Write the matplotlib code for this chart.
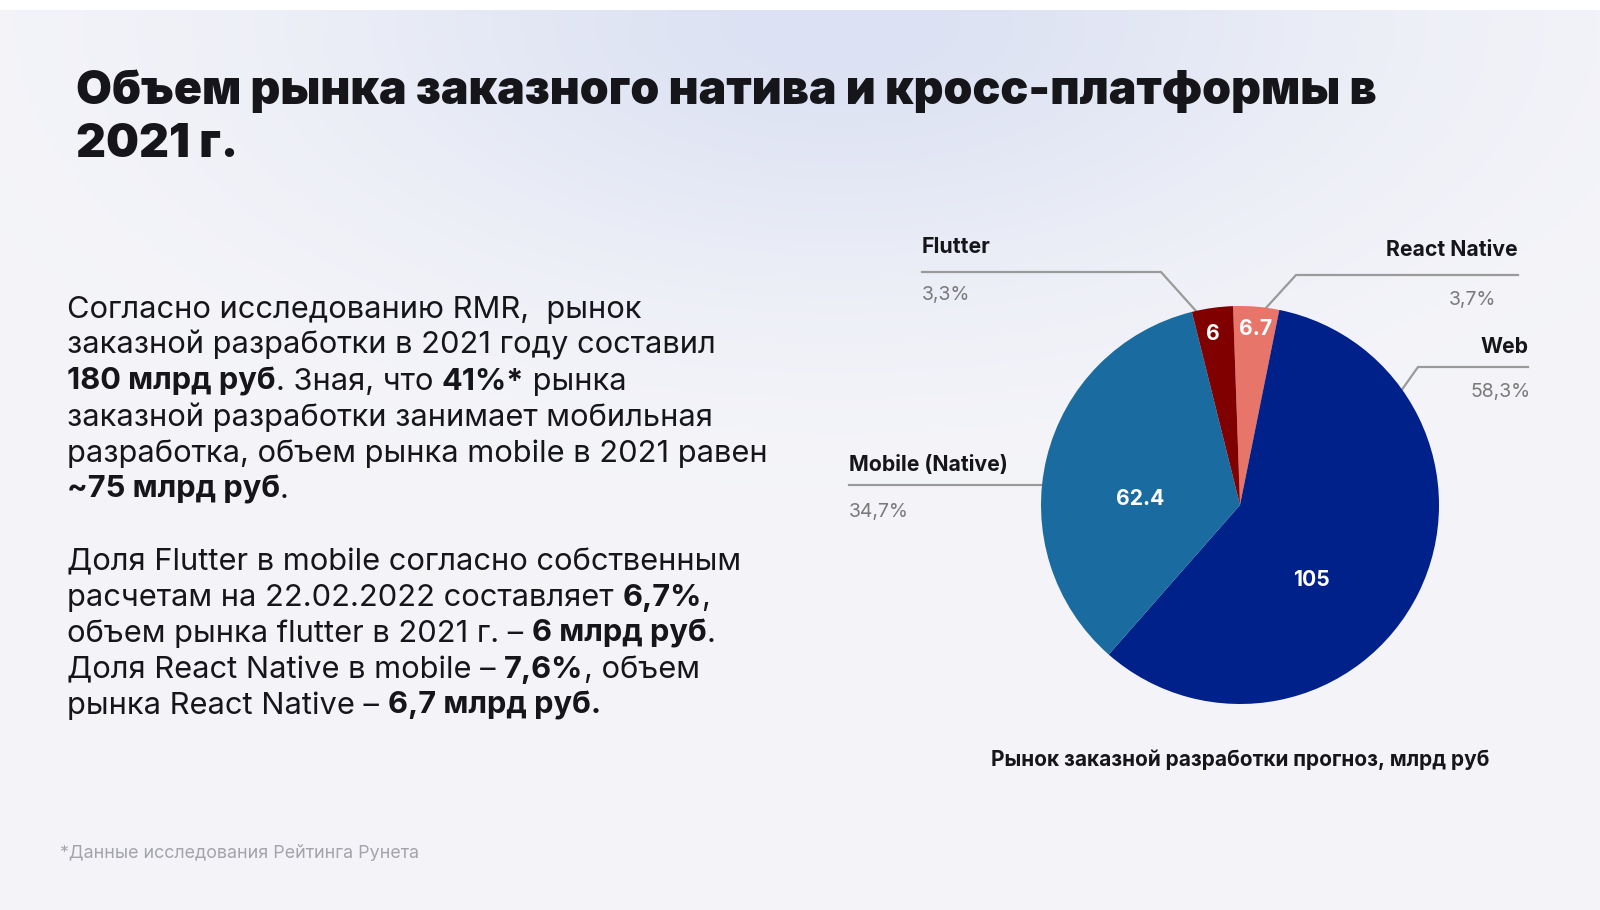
import numpy as np
import matplotlib.pyplot as plt

# Данные диаграммы
categories = ['React Native', 'Web', 'Mobile (Native)', 'Flutter']
values = [6.7, 105, 62.4, 6]
value_labels = ['6.7', '105', '62.4', '6']
shares = ['3,7%', '58,3%', '34,7%', '3,3%']
colors = ['#E8756A', '#00208A', '#1A6BA0', '#800000']

title_lines = ['Объем рынка заказного натива и кросс-платформы в', '2021 г.']
caption = 'Рынок заказной разработки прогноз, млрд руб'
footnote = '*Данные исследования Рейтинга Рунета'

# Текст слева: (фрагмент, жирный)
body = [
    [('Согласно исследованию RMR,  рынок', False)],
    [('заказной разработки в 2021 году составил', False)],
    [('180 млрд руб', True), ('. Зная, что ', False), ('41%*', True), (' рынка', False)],
    [('заказной разработки занимает мобильная', False)],
    [('разработка, объем рынка mobile в 2021 равен', False)],
    [('~75 млрд руб', True), ('.', False)],
    [],
    [('Доля Flutter в mobile согласно собственным', False)],
    [('расчетам на 22.02.2022 составляет ', False), ('6,7%', True), (',', False)],
    [('объем рынка flutter в 2021 г. – ', False), ('6 млрд руб', True), ('.', False)],
    [('Доля React Native в mobile – ', False), ('7,6%', True), (', объем', False)],
    [('рынка React Native – ', False), ('6,7 млрд руб.', True)],
]

FONT = ['Inter', 'DejaVu Sans']
TXT = '#16161a'
W, H = 1600, 910

fig = plt.figure(figsize=(16, 9.1), dpi=100)
bg = fig.add_axes([0, 0, 1, 1])
bg.set_xlim(0, W)
bg.set_ylim(H, 0)
bg.axis('off')

# фон с мягким градиентом
yy, xx = np.mgrid[0:H, 0:W]
g = np.exp(-(((xx - 840) / 520) ** 2 + ((yy - 20) / 260) ** 2))
base = np.array([245, 245, 249]) / 255
glow = np.array([220, 226, 243]) / 255
img = base * (1 - g[..., None]) + glow * g[..., None]
img[:10] = 1.0
bg.imshow(img, extent=(0, W, H, 0), aspect='auto', zorder=0)

renderer = fig.canvas.get_renderer()


def text_w(s, bold, size):
    kw = dict(fontsize=size, fontweight='bold' if bold else 'normal', family=FONT)
    t1 = bg.text(0, 0, s + '|', **kw)
    t2 = bg.text(0, 0, '|', **kw)
    w = t1.get_window_extent(renderer).width - t2.get_window_extent(renderer).width
    t1.remove()
    t2.remove()
    return w


def put_runs(x, y, runs, size):
    for s, b in runs:
        bg.text(x, y, s, fontsize=size, fontweight='bold' if b else 'normal',
                family=FONT, color=TXT, va='baseline', ha='left', zorder=3)
        x += text_w(s, b, size)


# заголовок
for i, line in enumerate(title_lines):
    bg.text(76, 104 + i * 53, line, fontsize=33.4, fontweight='black', family=FONT,
            color=TXT, va='baseline', ha='left', zorder=3)

# основной текст
for i, runs in enumerate(body):
    put_runs(67, 318 + i * 36, runs, 22.2)

bg.text(60, 858, footnote, fontsize=12.9, family=FONT, color='#a3a3ab', va='baseline', zorder=3)

# круговая диаграмма
cx, cy, r = 1240, 505, 199
pax = fig.add_axes([(cx - r) / W, (H - cy - r) / H, 2 * r / W, 2 * r / H])
wedges, _ = pax.pie(values, colors=colors, startangle=92, counterclock=False,
                    radius=1, wedgeprops=dict(linewidth=0))
pax.set_xlim(-1, 1)
pax.set_ylim(-1, 1)
pax.set_zorder(2)
pax.patch.set_visible(False)

# подписи значений внутри (угол, доля радиуса)
inner_pos = [(85, 0.89), (-46.6, 0.52), (176.5, 0.50), (98.9, 0.87)]
for lab, (ang, rr) in zip(value_labels, inner_pos):
    a = np.deg2rad(ang)
    pax.text(rr * np.cos(a), rr * np.sin(a), lab, color='white', fontsize=15.2,
             fontweight='bold', family=FONT, ha='center', va='center')

# выноски
line_c = '#9a9a9a'
lab_kw = dict(fontsize=15.3, fontweight='bold', family=FONT, color=TXT, va='baseline')
pct_kw = dict(fontsize=14, family=FONT, color='#7a7a7a', va='baseline')
# Flutter
bg.plot([922, 1161, 1196], [272, 272, 311], color=line_c, lw=1.6, zorder=3)
bg.text(922, 253, categories[3], **lab_kw)
bg.text(922, 300, shares[3], **pct_kw)
# React Native
bg.plot([1518, 1296, 1265], [275, 275, 309], color=line_c, lw=1.6, zorder=3)
bg.text(1518, 256, categories[0], ha='right', **lab_kw)
bg.text(1473, 305, shares[0], ha='center', **pct_kw)
# Web
bg.plot([1528, 1418, 1401], [367, 367, 391], color=line_c, lw=1.6, zorder=3)
bg.text(1528, 353, categories[1], ha='right', **lab_kw)
bg.text(1531, 397, shares[1], ha='right', **pct_kw)
# Mobile
bg.plot([849, 1042], [485, 485], color=line_c, lw=1.6, zorder=3)
bg.text(849, 471, categories[2], **lab_kw)
bg.text(849, 517, shares[2], **pct_kw)

bg.text(1240, 766, caption, fontsize=15, fontweight='bold', family=FONT, color=TXT,
        va='baseline', ha='center', zorder=3)

fig.savefig('out.png', dpi=100)
